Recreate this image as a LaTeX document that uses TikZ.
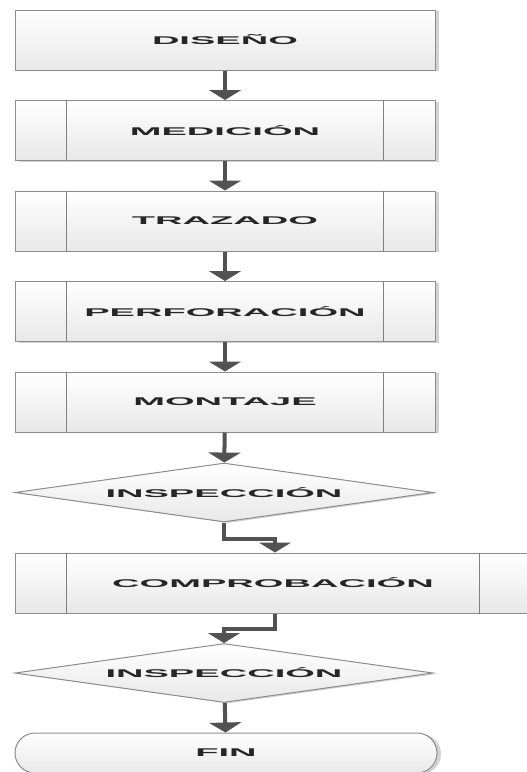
\documentclass[tikz,border=0pt]{standalone}
\usepackage{fontspec}
\setmainfont{Liberation Sans}
\usepackage{graphicx}
\usetikzlibrary{arrows.meta,shapes.geometric,shadows,calc}
\newcommand{\lbl}[1]{\scalebox{3.4}[1]{\fontsize{11.2}{13}\selectfont\bfseries #1}}
\begin{document}
\begin{tikzpicture}[x=1pt,y=-1pt,
  base/.style={draw=black!45, line width=1pt, top color=white, bottom color=black!9,
    drop shadow={shadow xshift=4pt, shadow yshift=-1pt, fill=black!35, opacity=0.5},
    text=black!85, inner sep=0pt},
  procbox/.style={base, rectangle, minimum width=420pt, minimum height=60pt},
  decbox/.style={base, diamond, aspect=7, minimum width=418pt, minimum height=59pt},
  endbox/.style={base, rectangle, rounded corners=20pt, minimum width=422pt, minimum height=40pt},
  sideline/.style={draw=black!50, line width=1.3pt},
  conn/.style={draw=black!68, line width=4pt, line join=miter, -{Triangle[width=32pt,length=10pt]}}
]
\useasboundingbox (0,0) rectangle (527,772);
\clip (0,0) rectangle (527,772);
\node[procbox] (dis) at (225,40) {\lbl{DISEÑO}};
\node[procbox] (med) at (225,130.5) {\lbl{MEDICIÓN}};
\node[procbox] (tra) at (225,221) {\lbl{TRAZADO}};
\node[procbox] (per) at (225,311.5) {\lbl{PERFORACIÓN}};
\node[procbox] (mon) at (225,402) {\lbl{MONTAJE}};
\node[decbox] (ins1) at (224,492.5) {\lbl{INSPECCIÓN}};
\node[procbox, minimum width=516pt] (cmp) at (273,583) {\lbl{COMPROBACIÓN}};
\node[decbox] (ins2) at (224,673) {\lbl{INSPECCIÓN}};
\node[endbox] (fin) at (226,753) {\lbl{FIN}};
\foreach \n in {med,tra,per,mon,cmp}{
  \draw[sideline] ([xshift=52pt]\n.north west) -- ([xshift=52pt]\n.south west);
  \draw[sideline] ([xshift=-52pt]\n.north east) -- ([xshift=-52pt]\n.south east);
}
\draw[conn] (dis) -- (med);
\draw[conn] (med) -- (tra);
\draw[conn] (tra) -- (per);
\draw[conn] (per) -- (mon);
\draw[conn] (mon) -- (ins1);
\draw[conn] (ins1.south) -- ++(0,16) -| ([xshift=2pt]cmp.north);
\draw[conn] ([xshift=2pt]cmp.south) -- ++(0,15) -| (ins2.north);
\draw[conn] (ins2) -- (fin);
\end{tikzpicture}
\end{document}
